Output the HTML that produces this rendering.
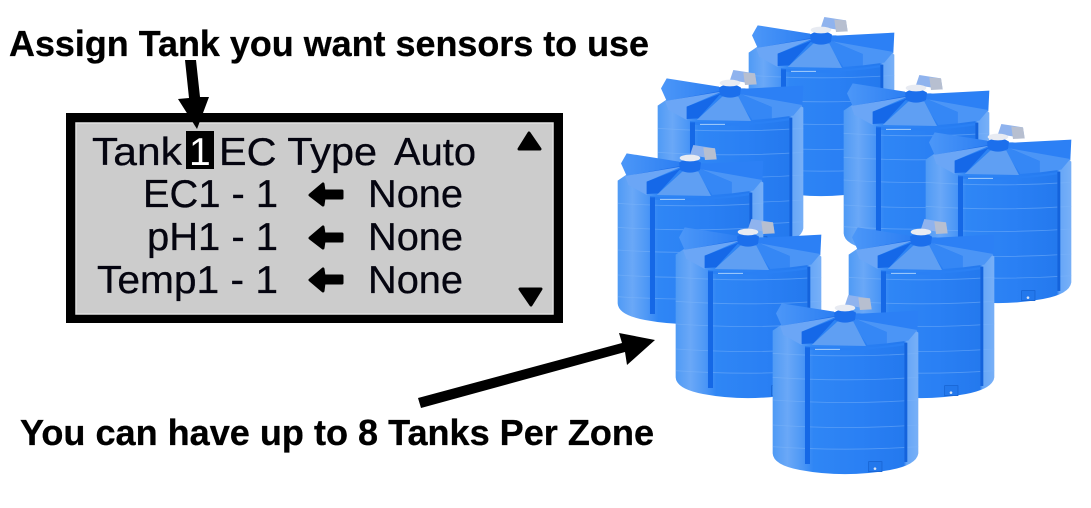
<!DOCTYPE html>
<html><head><meta charset="utf-8"><style>
html,body{margin:0;padding:0;background:#fff}
svg{display:block}
text{font-family:"Liberation Sans",sans-serif}
.h{font-weight:bold;font-size:36px;fill:#000;stroke:#000;stroke-width:.3}
.l{font-size:39px;fill:#050510;stroke:#050510;stroke-width:.3}
</style></head><body>
<svg width="1091" height="508" viewBox="0 0 1091 508" xmlns="http://www.w3.org/2000/svg">
<defs>
<linearGradient id="b" x1="0" x2="1" y1="0" y2="0">
<stop offset="0" stop-color="#4f9af5"/><stop offset=".1" stop-color="#6aa8f7"/><stop offset=".2" stop-color="#4e98f6"/><stop offset=".28" stop-color="#2f86f5"/><stop offset=".6" stop-color="#2a80f4"/><stop offset=".9" stop-color="#2479ee"/><stop offset=".92" stop-color="#66a6f7"/><stop offset="1" stop-color="#78b0f7"/>
</linearGradient>
<linearGradient id="f" x1="0" x2="1" y1="0" y2="0">
<stop offset="0" stop-color="#4c97f8"/><stop offset="1" stop-color="#2a7df2"/>
</linearGradient>
<g id="t" transform="translate(-13,-5) scale(.3333)">
<path d="M255,45 265,15 330,25 335,58Z" fill="#8fb3ee"/>
<path d="M295,22 330,25 335,58 300,60Z" fill="#b7bfd0"/>
<path d="M38,122 L38,490 Q40,525 120,540 Q255,565 390,540 Q470,525 475,490 L475,128 L445,105 L300,70 L220,70 L70,100Z" fill="url(#b)"/>
<g stroke="#7cb4f9" stroke-width="2.5" fill="none" opacity=".55">
<path d="M38,190 Q255,205 475,190"/><path d="M38,262 Q255,277 475,262"/><path d="M38,330 Q255,345 475,330"/><path d="M38,405 Q255,420 475,405"/><path d="M38,470 Q255,485 475,470"/>
</g>
<path d="M48,70 65,40 222,65 235,80 65,108Z" fill="url(#f)"/>
<path d="M65,108 235,76 225,84 80,112Z" fill="#1f6fe8"/>
<path d="M280,72 475,62 472,124 290,90Z" fill="#2c80f5"/>
<path d="M290,88 472,120 445,152 380,160 380,126Z" fill="#4b95f6"/>
<path d="M280,84 380,126 380,160 322,165 275,96Z" fill="#3587f5"/>
<path d="M60,108 230,80 125,125 125,165 70,135Z" fill="#6ba6f6"/>
<path d="M125,125 228,85 160,160 125,162Z" fill="#1568e8"/>
<path d="M155,165 232,95 280,95 318,168Z" fill="#5f9ff3"/>
<path d="M222,68 Q255,45 288,68 L285,90 Q255,106 225,90Z" fill="#1c6fec"/>
<ellipse cx="255" cy="54" rx="31" ry="10" fill="#e8ebf2"/>
<path d="M135,168 Q280,185 440,158 L440,165 Q280,190 135,178Z" fill="#2a80f4"/>
<path d="M165,178 H240" stroke="#a8d0fb" stroke-width="3"/>
<rect x="135" y="172" width="15" height="350" fill="#1568e6"/>
<rect x="433" y="158" width="9" height="358" fill="#1463dc"/>
<rect x="326" y="515" width="40" height="30" fill="#2378ec" stroke="#155fcc" stroke-width="2"/>
<circle cx="345" cy="536" r="4" fill="#d8e4f5"/>
</g>
</defs>

<use href="#t" x="749" y="17"/>
<use href="#t" x="658" y="70"/>
<use href="#t" x="844" y="75"/>
<use href="#t" x="926" y="124"/>
<use href="#t" x="618" y="145"/>
<use href="#t" x="849" y="219"/>
<use href="#t" x="676" y="219"/>
<use href="#t" x="773" y="295"/>

<text class="h" x="9" y="56" textLength="640" lengthAdjust="spacingAndGlyphs">Assign Tank you want sensors to use</text>
<text class="h" x="20" y="445" textLength="634" lengthAdjust="spacingAndGlyphs">You can have up to 8 Tanks Per Zone</text>

<rect x="66" y="113" width="497" height="210" fill="#000"/>
<rect x="76" y="123" width="477" height="191" fill="#ccc" stroke="#e2e2e2" stroke-width="1.5"/>

<rect x="186" y="131" width="28" height="38" fill="#000"/>
<path d="M185,60 L196,60 L200,97 L209,97 L197,129 L178,99 L189,98Z" fill="#000"/>
<text class="l" x="92" y="165" textLength="90" lengthAdjust="spacingAndGlyphs">Tank</text>
<text class="l" x="189" y="165" style="fill:#fff;stroke:none">1</text>
<text class="l" x="219" y="165" textLength="158" lengthAdjust="spacingAndGlyphs">EC Type</text>
<text class="l" x="394" y="165" textLength="82" lengthAdjust="spacingAndGlyphs">Auto</text>

<text class="l" x="143" y="207" textLength="135" lengthAdjust="spacingAndGlyphs">EC1 - 1</text>
<text class="l" x="147" y="250" textLength="131" lengthAdjust="spacingAndGlyphs">pH1 - 1</text>
<text class="l" x="97" y="293" textLength="181" lengthAdjust="spacingAndGlyphs">Temp1 - 1</text>
<text class="l" x="368" y="207" textLength="95" lengthAdjust="spacingAndGlyphs">None</text>
<text class="l" x="368" y="250" textLength="95" lengthAdjust="spacingAndGlyphs">None</text>
<text class="l" x="368" y="293" textLength="95" lengthAdjust="spacingAndGlyphs">None</text>

<g fill="#000" stroke="#000" stroke-width="3" stroke-linejoin="round">
<path d="M310,195 L323,184 L324,191 L342,191 L342,198 L324,198 L323,205Z"/>
<path d="M310,238 L323,227 L324,234 L342,234 L342,241 L324,241 L323,248Z"/>
<path d="M310,280 L323,269 L324,276 L342,276 L342,283 L324,283 L323,291Z"/>
<path d="M529,133 L540,149 L519,149Z"/>
<path d="M520,289 L541,289 L531,305Z"/>
</g>

<path d="M418,398 L622,343 L619,333 L655,340 L627,365 L625,352 L421,408Z" fill="#000"/>
</svg>
</body></html>
